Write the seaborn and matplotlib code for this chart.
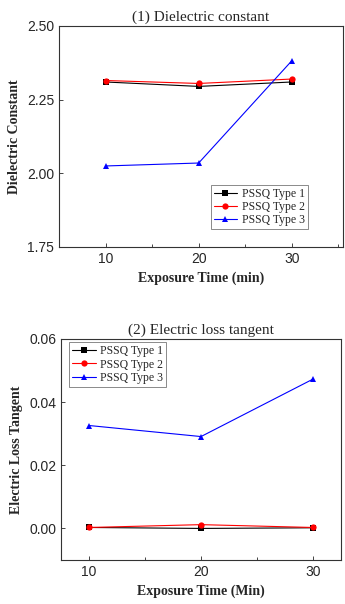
import pandas as pd
import matplotlib.pyplot as plt
import seaborn as sns
from matplotlib.ticker import MultipleLocator

## data
times = [10, 20, 30]
series = ['PSSQ Type 1', 'PSSQ Type 2', 'PSSQ Type 3']
dk_type1 = [2.310, 2.295, 2.310]
dk_type2 = [2.315, 2.305, 2.320]
dk_type3 = [2.025, 2.035, 2.382]
tan_type1 = [0.0003, 0.0000, 0.0002]
tan_type2 = [0.0003, 0.0012, 0.0003]
tan_type3 = [0.0326, 0.0291, 0.0473]

colors = ['black', 'red', 'blue']
markers = ['s', 'o', '^']


def long_table(vals):
    rows = []
    for name, v in zip(series, vals):
        for t, y in zip(times, v):
            rows.append({'time': t, 'value': y, 'series': name})
    return pd.DataFrame(rows)


dk = long_table([dk_type1, dk_type2, dk_type3])
tan = long_table([tan_type1, tan_type2, tan_type3])

sns.set_style('ticks')
plt.rcParams['font.family'] = ['Liberation Sans', 'DejaVu Sans']
serif = 'Liberation Serif'

fig = plt.figure(figsize=(3.45, 6.04), dpi=100)
ax1 = fig.add_axes([59 / 345, 1 - 247 / 604, 284 / 345, 221 / 604])
ax2 = fig.add_axes([61 / 345, 1 - 560 / 604, 280 / 345, 221 / 604])


def draw(ax, df, title, ylabel, xlabel, xlim, ylim, yticks, legend_box):
    sns.lineplot(data=df, x='time', y='value', hue='series', style='series',
                 palette=colors, markers=markers, dashes=False, ax=ax,
                 linewidth=0.8, markersize=4.5, markeredgewidth=0)
    ax.set_xlim(*xlim)
    ax.set_ylim(*ylim)
    ax.set_xticks(times)
    ax.xaxis.set_minor_locator(MultipleLocator(5))
    ax.set_yticks(yticks)
    ax.set_yticklabels(['{:.2f}'.format(v) for v in yticks])
    ax.tick_params(direction='in', labelsize=10, length=3, width=0.6)
    ax.tick_params(which='minor', direction='in', length=2, width=0.6)
    for s in ax.spines.values():
        s.set_linewidth(0.8)
        s.set_color('#333333')
    ax.set_title(title, family=serif, fontsize=11, pad=4)
    ax.set_xlabel(xlabel, family=serif, fontweight='bold', fontsize=10)
    ax.set_ylabel(ylabel, family=serif, fontweight='bold', fontsize=10)
    leg = ax.legend(loc=legend_box, frameon=True, fancybox=False,
                    handlelength=2.0, handletextpad=0.4, borderpad=0.25,
                    labelspacing=0.1, borderaxespad=0.2,
                    prop={'family': serif, 'size': 8.5})
    leg.get_frame().set_edgecolor('#555555')
    leg.get_frame().set_linewidth(0.6)


draw(ax1, dk, '(1) Dielectric constant', 'Dielectric Constant',
     'Exposure Time (min)', (5, 35.5), (1.75, 2.50),
     [1.75, 2.00, 2.25, 2.50], 'lower right')
ax1.get_legend().set_bbox_to_anchor((0.0, 0.07, 0.885, 0.5))
draw(ax2, tan, '(2) Electric loss tangent', 'Electric Loss Tangent',
     'Exposure Time (Min)', (7.5, 32.5), (-0.01, 0.06),
     [0.00, 0.02, 0.04, 0.06], 'upper left')
ax2.get_legend().set_bbox_to_anchor((0.02, 0.0, 0.5, 0.995))

fig.savefig('out.png', dpi=100)
